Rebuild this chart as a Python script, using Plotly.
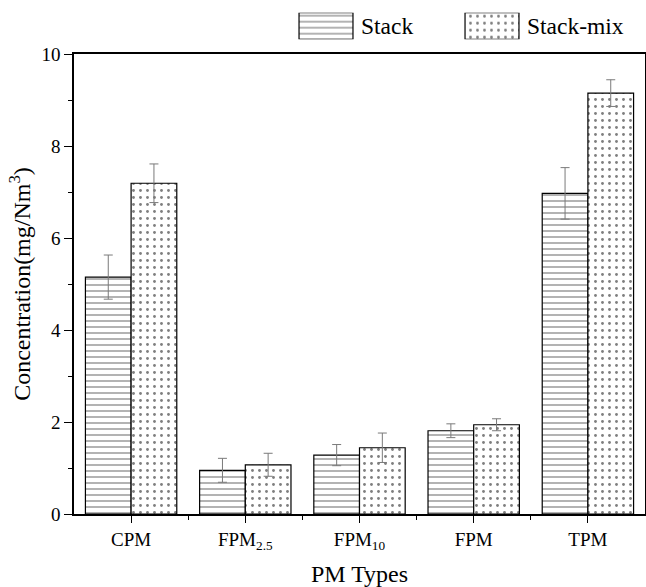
import plotly.graph_objects as go

categories = ["CPM", "FPM<sub>2.5</sub>", "FPM<sub>10</sub>", "FPM", "TPM"]
series_names = ["Stack", "Stack-mix"]
stack = [5.15, 0.95, 1.28, 1.81, 6.97]
stack_err = [0.48, 0.26, 0.23, 0.15, 0.56]
mix = [7.19, 1.07, 1.44, 1.94, 9.15]
mix_err = [0.42, 0.25, 0.32, 0.13, 0.29]
y_ticks = [0, 2, 4, 6, 8, 10]

FONT = "Liberation Serif, Times New Roman, serif"
xpos = list(range(len(categories)))

line_pat = dict(shape="-", fgcolor="black", bgcolor="white", size=6, solidity=0.2)
dot_pat = dict(shape=".", fgcolor="black", bgcolor="white", size=7, solidity=0.13)
err_style = dict(type="data", color="#7a7a7a", thickness=1, width=4.5, visible=True)

fig = go.Figure()
fig.add_trace(go.Bar(
    x=xpos, y=stack, name=series_names[0],
    marker=dict(color="white", line=dict(color="black", width=1.2), pattern=line_pat),
    error_y=dict(array=stack_err, **err_style), showlegend=False,
))
fig.add_trace(go.Bar(
    x=xpos, y=mix, name=series_names[1],
    marker=dict(color="white", line=dict(color="black", width=1.2), pattern=dot_pat),
    error_y=dict(array=mix_err, **err_style), showlegend=False,
))

# custom legend swatches (drawn as bars on a small hidden axis)
fig.add_trace(go.Bar(
    x=series_names, y=[1, 1], width=0.325, xaxis="x2", yaxis="y2",
    marker=dict(color="white", line=dict(color="black", width=1.2),
                pattern=dict(shape=["-", "."], fgcolor="black", bgcolor="white",
                             size=[6, 7], solidity=[0.2, 0.13])),
    showlegend=False, hoverinfo="skip",
))

annotations = []
for i, nm in enumerate(series_names):
    annotations.append(dict(
        x=i + 0.2, y=0.5, xref="x2", yref="y2", text=nm, showarrow=False,
        xanchor="left", yanchor="middle", font=dict(family=FONT, size=23.5, color="black"),
    ))

fig.update_layout(
    width=646, height=587,
    margin=dict(l=74, r=1, t=0, b=73, autoexpand=False),
    showlegend=False,
    paper_bgcolor="white", plot_bgcolor="white",
    barmode="group", bargap=0.2, bargroupgap=0,
    font=dict(family=FONT, color="black", size=19),
    annotations=annotations,
    xaxis=dict(
        range=[-0.5, 4.5], tickmode="array", tickvals=xpos, ticktext=categories,
        showline=True, linecolor="black", linewidth=1.6, mirror=True,
        ticks="outside", ticklen=7, tickwidth=1.4, tickcolor="black",
        minor=dict(tickvals=[p + 0.5 for p in xpos[:-1]], ticks="outside", ticklen=4,
                   tickwidth=1.4, tickcolor="black"),
        showgrid=False, zeroline=False, automargin=False,
        tickfont=dict(family=FONT, size=19, color="black"),
        title=dict(text="PM Types", font=dict(family=FONT, size=24, color="black"), standoff=15),
    ),
    yaxis=dict(
        domain=[0, 460 / 514], range=[0, 10], tickvals=y_ticks,
        showline=True, linecolor="black", linewidth=1.6, mirror=True,
        ticks="outside", ticklen=8, tickwidth=1.4, tickcolor="black",
        minor=dict(dtick=1, tick0=0, ticks="outside", ticklen=4, tickwidth=1.4, tickcolor="black"),
        showgrid=False, zeroline=False, automargin=False,
        tickfont=dict(family=FONT, size=19, color="black"),
        title=dict(text="Concentration(mg/Nm<sup>3</sup>)",
                   font=dict(family=FONT, size=24, color="black"), standoff=4),
    ),
    xaxis2=dict(domain=[(243 - 74) / 571, (575 - 74) / 571], range=[-0.5, 1.5],
                visible=False, anchor="y2"),
    yaxis2=dict(domain=[(514 - 39.3) / 514, (514 - 12.7) / 514], range=[0, 1],
                visible=False, anchor="x2"),
)

fig.write_html("out.html", config={"displayModeBar": False},
               post_script="document.body.style.margin='0';")
